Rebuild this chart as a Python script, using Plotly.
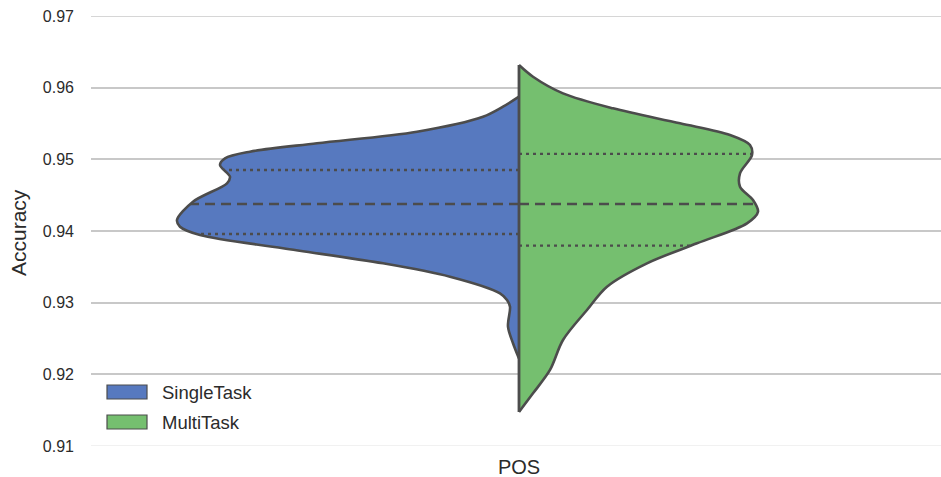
import numpy as np
import plotly.graph_objects as go

# ---- data ----
category = "POS"
series_names = ["SingleTask", "MultiTask"]
y_title = "Accuracy"

# SingleTask density outline: accuracy levels (top -> bottom) and half-widths
single_acc = [0.95874, 0.95735, 0.95595, 0.95386, 0.95224, 0.95107, 0.95014, 0.94921,
              0.94758, 0.94666, 0.94409, 0.94154, 0.94060, 0.93944, 0.93759, 0.93549,
              0.93362, 0.93131, 0.93037, 0.92944, 0.92665, 0.92433, 0.92220]
single_w = [0, 16, 36, 102, 202, 269, 294, 299,
            289, 292, 326, 342, 339, 319, 236, 136,
            69, 19, 12, 9, 11, 6, 0]
single_quartiles = [0.93958, 0.94377, 0.94851]

# MultiTask density outline
multi_acc = [0.96316, 0.96153, 0.95921, 0.95712, 0.95503, 0.95340, 0.95200, 0.95060,
             0.94805, 0.94618, 0.94433, 0.94269, 0.94107, 0.93828, 0.93549, 0.93223,
             0.92898, 0.92479, 0.92061, 0.91735, 0.91475]
multi_w = [0, 14, 44, 94, 161, 211, 231, 233,
           221, 221, 234, 239, 228, 178, 128, 88,
           68, 44, 31, 14, 0]
multi_quartiles = [0.93795, 0.94377, 0.95075]

y_ticks = [0.91, 0.92, 0.93, 0.94, 0.95, 0.96, 0.97]

# ---- styling ----
BLUE = "#5779bf"
GREEN = "#75bf6f"
EDGE = "#4c4c4c"
TXT = "#2b2b2b"
FONT = "Liberation Sans, Arial, sans-serif"

fig = go.Figure()

# boundary grid lines at the ends of the axis range
fig.add_shape(type="line", xref="paper", yref="y", x0=0, x1=1, y0=y_ticks[-1], y1=y_ticks[-1],
              line=dict(color="#c8c8c8", width=1.5), layer="below")
fig.add_shape(type="line", xref="paper", yref="y", x0=0, x1=1, y0=y_ticks[0], y1=y_ticks[0],
              line=dict(color="#ececec", width=1.5), layer="below")

def add_half(acc, w, sign, color, name):
    xs = [sign * v for v in w]
    fig.add_trace(go.Scatter(
        x=xs, y=list(acc), mode="lines", fill="toself", fillcolor=color,
        line=dict(color=EDGE, width=2.6, shape="spline", smoothing=0.9),
        name=name, showlegend=False, hoverinfo="skip"))

def add_quartiles(acc, w, q, sign):
    a = np.array(acc)[::-1]
    ww = np.array(w)[::-1]
    for i, qv in enumerate(q):
        hw = float(np.interp(qv, a, ww))
        fig.add_trace(go.Scatter(
            x=[0, sign * hw], y=[qv, qv], mode="lines",
            line=dict(color=EDGE, width=2.3,
                      dash="10px,6px" if i == 1 else "3px,4px"),
            showlegend=False, hoverinfo="skip"))

add_half(single_acc, single_w, -1, BLUE, series_names[0])
add_half(multi_acc, multi_w, 1, GREEN, series_names[1])
add_quartiles(single_acc, single_w, single_quartiles, -1)
add_quartiles(multi_acc, multi_w, multi_quartiles, 1)

# centre line
fig.add_trace(go.Scatter(x=[0, 0], y=[max(multi_acc[0], single_acc[0]), min(multi_acc[-1], single_acc[-1])],
                         mode="lines", line=dict(color=EDGE, width=2.8),
                         showlegend=False, hoverinfo="skip"))

# ---- manual legend (pixel -> paper conversion) ----
L, R, T, B = 91, 941, 16, 446
def px(x): return (x - L) / (R - L)
def py(y): return (B - y) / (B - T)

for i, (nm, col) in enumerate(zip(series_names, [BLUE, GREEN])):
    y0 = 385 + 30 * i
    fig.add_shape(type="rect", xref="paper", yref="paper",
                  x0=px(107), x1=px(147), y0=py(y0 + 14), y1=py(y0),
                  fillcolor=col, line=dict(color=EDGE, width=1.2))
    fig.add_annotation(x=px(160), y=py(y0 + 7), xref="paper", yref="paper",
                       text=nm, showarrow=False, xanchor="left", yanchor="middle",
                       font=dict(family=FONT, size=18.5, color=TXT))

# y-axis title
fig.add_annotation(x=px(18), y=py(233), xref="paper", yref="paper", text=y_title,
                   textangle=-90, showarrow=False, xanchor="center", yanchor="middle",
                   font=dict(family=FONT, size=21, color=TXT))

fig.update_layout(
    width=941, height=477,
    margin=dict(l=L, r=941 - R, t=T, b=477 - B),
    paper_bgcolor="white", plot_bgcolor="white",
    showlegend=False,
    font=dict(family=FONT, color=TXT),
)
fig.update_xaxes(range=[-428, 422], tickvals=[0], ticktext=[category],
                 showgrid=False, zeroline=False, showline=False, automargin=False,
                 tickfont=dict(size=20, color=TXT), ticks="", ticklabelstandoff=7)
fig.update_yaxes(range=[0.91, 0.97], tickvals=y_ticks,
                 ticktext=[f"{v:.2f}" for v in y_ticks],
                 showgrid=True, gridcolor="#c8c8c8", gridwidth=1.5,
                 zeroline=False, showline=False, ticks="", automargin=False,
                 tickfont=dict(size=16, color=TXT), ticklabelstandoff=16)

fig.write_html("out.html", config={"displayModeBar": False},
               post_script="document.body.style.margin='0';document.body.style.overflow='hidden';")
